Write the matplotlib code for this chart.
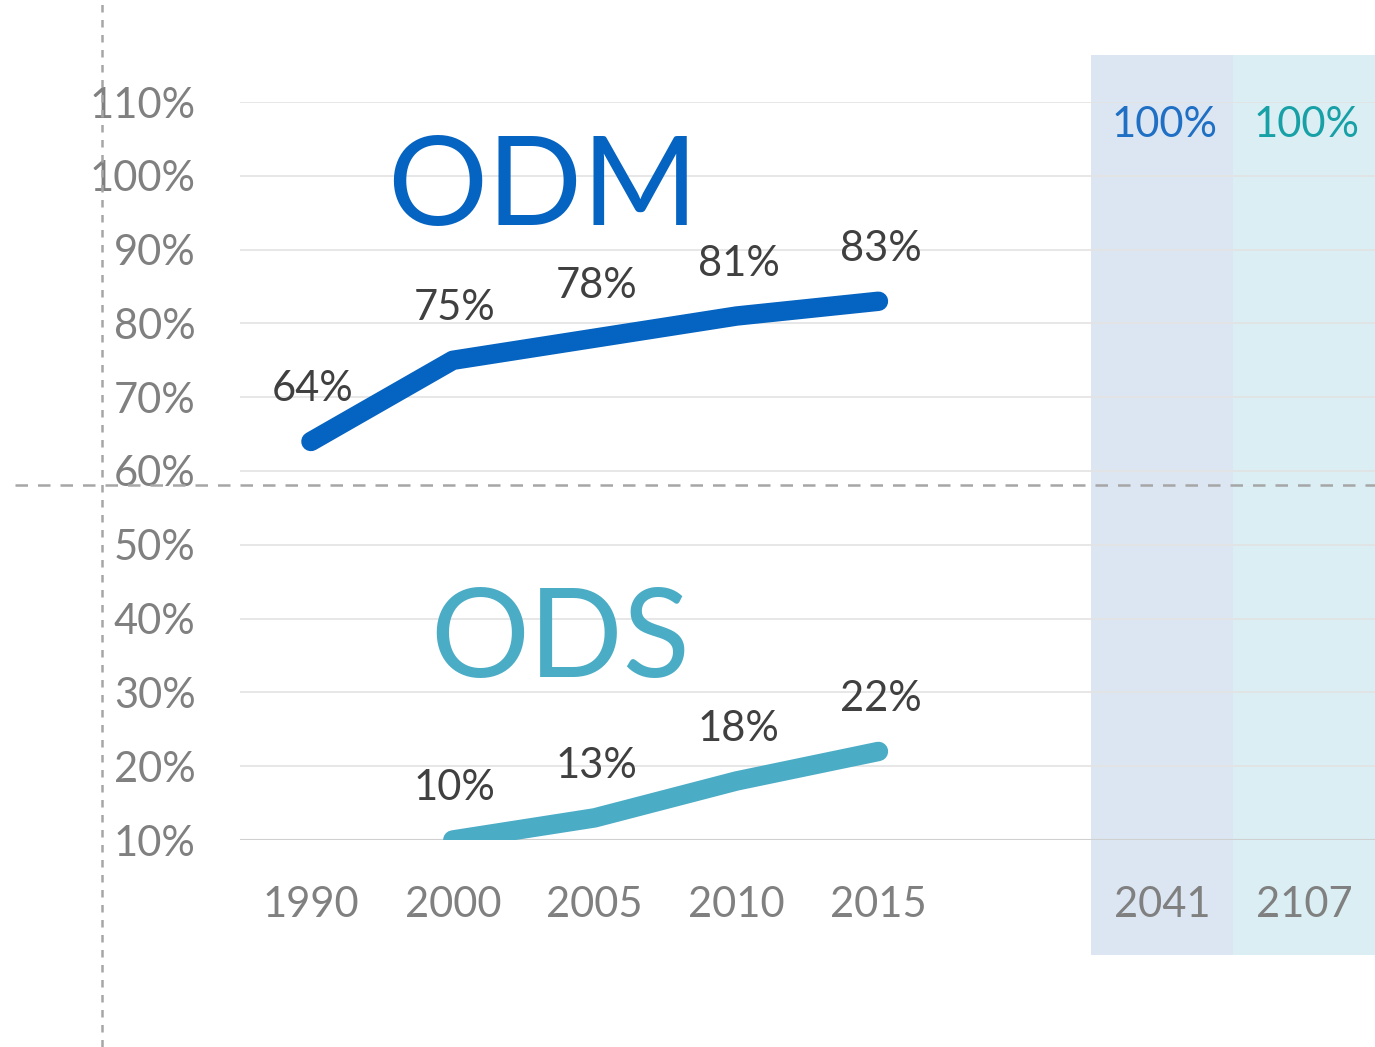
import matplotlib.pyplot as plt
import matplotlib.transforms as mtransforms
from matplotlib.patches import Rectangle
from matplotlib.lines import Line2D

plt.rcParams['font.family'] = ['Lato', 'DejaVu Sans']

years = ["1990", "2000", "2005", "2010", "2015", "", "2041", "2107"]
odm_x = [0, 1, 2, 3, 4]
odm_values = [64, 75, 78, 81, 83]
ods_x = [1, 2, 3, 4]
ods_values = [10, 13, 18, 22]
target_x = [6, 7]
target_values = [100, 100]
target_colors = ["#1f6fc4", "#17a0a6"]
band_colors = ["#dce6f2", "#daeef3"]
y_ticks = list(range(10, 111, 10))

ODM_BLUE = "#0563c1"
ODS_TEAL = "#4bacc6"

fig = plt.figure(figsize=(13.75, 10.47), dpi=100)
ax = fig.add_axes([240 / 1375, 207 / 1047, 1135 / 1375, 738 / 1047])
ax.set_xlim(-0.5, 7.5)
ax.set_ylim(10, 110)

# shaded target columns, reaching past the plot area
trans = mtransforms.blended_transform_factory(ax.transData, fig.transFigure)
for xi, c in zip(target_x, band_colors):
    ax.add_patch(Rectangle((xi - 0.5, 92 / 1047), 1, 900 / 1047, transform=trans,
                           facecolor=c, edgecolor="none", clip_on=False, zorder=0.2))

ax.set_axisbelow(True)
ax.set_yticks(y_ticks)
ax.set_yticklabels([f"{v}%" for v in y_ticks])
ax.grid(axis="y", color="#e3e3e3", linewidth=1.2)
ax.axhline(10, color="#d0d0d0", linewidth=1.5, zorder=0.6)
ax.set_xticks(range(len(years)))
ax.set_xticklabels(years)
ax.tick_params(axis="y", length=0, pad=32, labelsize=30, labelcolor="#808080")
ax.tick_params(axis="x", length=0, pad=33, labelsize=30, labelcolor="#808080")
for s in ax.spines.values():
    s.set_visible(False)

ax.plot(odm_x, odm_values, color=ODM_BLUE, linewidth=14, solid_capstyle="round",
        solid_joinstyle="round", zorder=3)
ax.plot(ods_x, ods_values, color=ODS_TEAL, linewidth=14, solid_capstyle="round",
        solid_joinstyle="round", zorder=3)

for xs, vs in [(odm_x, odm_values), (ods_x, ods_values)]:
    for x, v in zip(xs, vs):
        ax.annotate(f"{v}%", (x + 0.015, v), xytext=(0, 29), textcoords="offset points",
                    ha="center", va="baseline", fontsize=30, color="#404040", zorder=4)

for x, v, c in zip(target_x, target_values, target_colors):
    ax.annotate(f"{v}%", (x + 0.02, v), xytext=(0, 28), textcoords="offset points",
                ha="center", va="baseline", fontsize=30, color=c, zorder=4)

ax.text(387 / 1375, (1047 - 225) / 1047, "ODM", transform=fig.transFigure,
        fontsize=90, color=ODM_BLUE, ha="left", va="baseline")
ax.text(430 / 1375, (1047 - 677) / 1047, "ODS", transform=fig.transFigure,
        fontsize=89, color=ODS_TEAL, ha="left", va="baseline")

# dashed guide lines across the figure
fig.add_artist(Line2D([102 / 1375, 102 / 1375], [0, 1], transform=fig.transFigure,
                      color="#a6a6a6", linewidth=1.8, linestyle=(0, (3, 3))))
fig.add_artist(Line2D([15 / 1375, 1], [(1047 - 485) / 1047] * 2, transform=fig.transFigure,
                      color="#a6a6a6", linewidth=1.8, linestyle=(0, (5, 4))))

fig.savefig("out.png", dpi=100)
